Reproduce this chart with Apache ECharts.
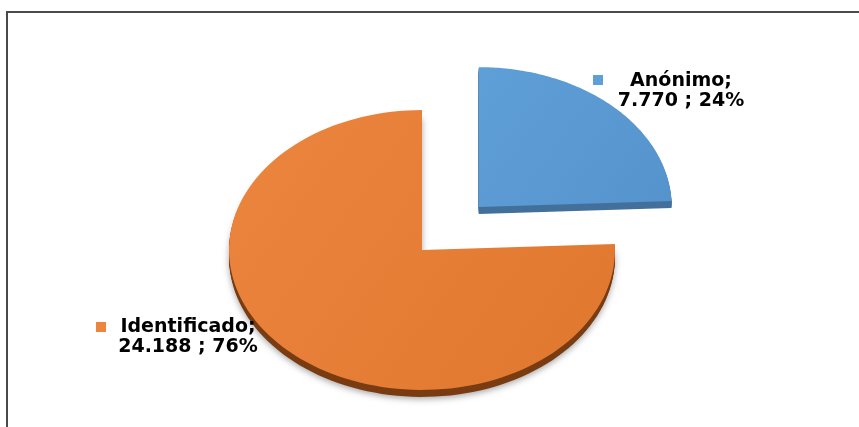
<!DOCTYPE html>
<html>
<head>
<meta charset="utf-8">
<script src="https://cdn.jsdelivr.net/npm/echarts@6/dist/echarts.min.js"></script>
<style>
  html, body { margin: 0; padding: 0; background: #fff; }
  #chart { width: 859px; height: 427px; }
</style>
</head>
<body>
<div id="chart"></div>
<script>
// datos del gráfico
const categories = ['Anónimo', 'Identificado'];
const values = [7770, 24188];

const total = values.reduce((a, b) => a + b, 0);

// estilos
const faceColors = [
    ['#5f9fd8', '#5593cc'],
    ['#ec853e', '#e0772f']
];
const sideColors = ['#43709b', '#7a3c12'];
const SQUASH = 0.725;     // elipse: radio vertical / radio horizontal
const DEPTH = 7;          // grosor 3D en px
const EXPLODE = [0.425, 0];
// posición de etiquetas (centro del texto y cuadro de color)
const labelLayout = [
    { x: 681, y: 71, sq: [593, 75] },
    { x: 188, y: 317, sq: [96, 322] }
];

function fmt(v) {
    return String(v).replace(/\B(?=(\d{3})+(?!\d))/g, '.');
}

const chart = echarts.init(document.getElementById('chart'));

function renderItem(params, api) {
    const i = params.dataIndex;
    let start = 0;
    for (let k = 0; k < i; k++) start += values[k];
    const end = start + api.value(1);

    const c = api.coord([0, 0]);
    let off = [0, 0];
    if (EXPLODE[i]) {
        const m = api.coord([EXPLODE[i], (start + end) / 2]);
        off = [m[0] - c[0], (m[1] - c[1]) * SQUASH];
    }
    const pts = [[c[0] + off[0], c[1] + off[1]]];
    const N = 120;
    for (let s = 0; s <= N; s++) {
        const a = start + (end - start) * s / N;
        const p = api.coord([1, a]);
        pts.push([p[0] + off[0], c[1] + (p[1] - c[1]) * SQUASH + off[1]]);
    }

    const children = [];
    for (let d = DEPTH; d >= 1; d--) {
        children.push({
            type: 'polygon',
            shape: { points: pts.map(p => [p[0], p[1] + d]) },
            style: d === DEPTH && i === 1
                ? { fill: sideColors[i], shadowBlur: 6, shadowOffsetY: 2, shadowColor: 'rgba(0,0,0,0.35)' }
                : { fill: sideColors[i] }
        });
    }
    children.push({
        type: 'polygon',
        shape: { points: pts },
        style: {
            fill: {
                type: 'linear', x: 0, y: 0, x2: 1, y2: 1,
                colorStops: [
                    { offset: 0, color: faceColors[i][0] },
                    { offset: 1, color: faceColors[i][1] }
                ]
            }
        }
    });

    const pct = Math.round(values[i] / total * 100);
    const lay = labelLayout[i];
    children.push({
        type: 'rect',
        shape: { x: lay.sq[0], y: lay.sq[1], width: 10, height: 10 },
        style: { fill: faceColors[i][0] }
    });
    children.push({
        type: 'text',
        x: lay.x,
        y: lay.y,
        style: {
            text: categories[i] + ';\n' + fmt(values[i]) + ' ; ' + pct + '%',
            fill: '#000',
            fontFamily: 'DejaVu Sans',
            fontWeight: 'bold',
            fontSize: 19,
            lineHeight: 20,
            align: 'center',
            verticalAlign: 'top'
        }
    });

    return { type: 'group', children: children };
}

chart.setOption({
    animation: false,
    polar: { center: [422, 250], radius: 193 },
    angleAxis: {
        type: 'value', min: 0, max: total, startAngle: 90, clockwise: true,
        show: false, splitLine: { show: false }
    },
    radiusAxis: { type: 'value', min: 0, max: 1, show: false, splitLine: { show: false } },
    graphic: [{
        type: 'rect',
        shape: { x: 7, y: 12, width: 900, height: 500 },
        style: { fill: 'none', stroke: '#4a4a4a', lineWidth: 2 },
        z: 10
    }],
    series: [{
        type: 'custom',
        coordinateSystem: 'polar',
        renderItem: renderItem,
        data: values.map((v, i) => ({ name: categories[i], value: [1, v] }))
    }]
});
</script>
</body>
</html>
